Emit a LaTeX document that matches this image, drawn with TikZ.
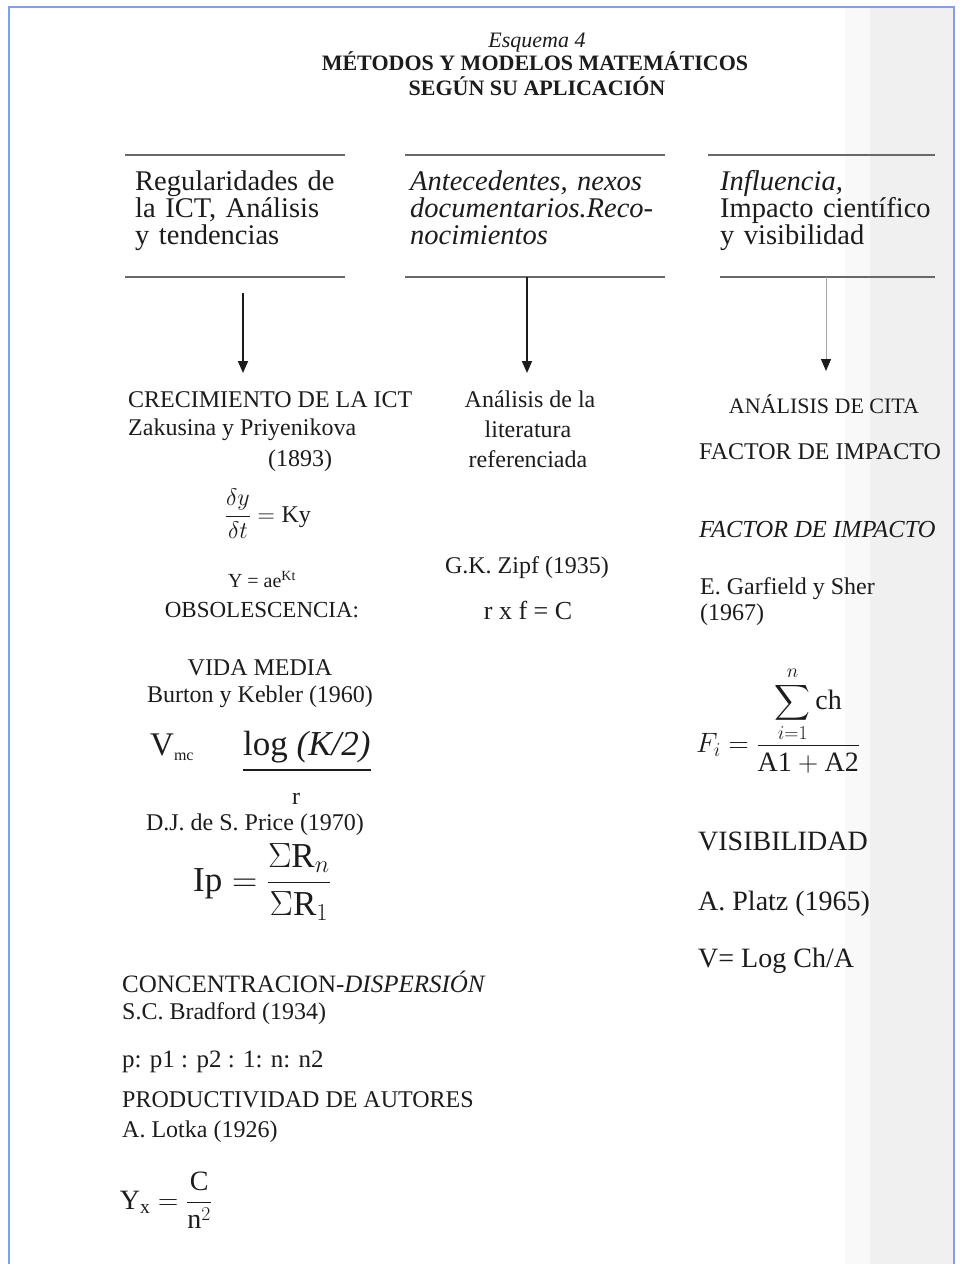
\RequirePackage{fix-cm}
\documentclass[tikz,border=0pt]{standalone}
\usepackage{amsmath}
\usepackage{fontspec}
\setmainfont{Liberation Serif}
\usetikzlibrary{arrows.meta}
\definecolor{ink}{RGB}{28,28,28}
\definecolor{frameblue}{RGB}{125,160,240}
\definecolor{rulegray}{RGB}{105,105,105}
\begin{document}
\begin{tikzpicture}[x=1pt,y=-1pt,
  txt/.style={inner sep=0pt, text=ink, font=\fontsize{24}{28}\selectfont},
  lft/.style={txt, anchor=mid west, yshift=-5pt},
  ctr/.style={txt, anchor=mid, yshift=-5pt},
  hd/.style={inner sep=0pt, text=ink, anchor=mid west, yshift=-6pt, align=left, font=\fontsize{28.5}{27}\selectfont},
  hrule/.style={rulegray, line width=1.4pt},
  arr/.style={ink, line width=1.8pt, -{Triangle[width=10pt,length=12pt]}},
  arrlight/.style={gray!70, line width=1pt, -{Triangle[width=10pt,length=12pt,color=ink]}}]
\useasboundingbox (0,0) rectangle (959,1264);
\fill[white] (0,0) rectangle (959,1264);
\fill[gray!5] (845,8) rectangle (870,1264);
\fill[gray!12] (870,8) rectangle (953,1264);
\draw[frameblue, line width=2pt] (9,1264) -- (9,7) -- (954,7) -- (954,1264);

% title
\node[ctr, font=\itshape\fontsize{22}{24}\selectfont] (t1) at (537,40) {Esquema 4};
\node[ctr, font=\bfseries\fontsize{22}{24}\selectfont] (t2) at (535,63) {MÉTODOS Y MODELOS MATEMÁTICOS};
\node[ctr, font=\bfseries\fontsize{22}{24}\selectfont] (t3) at (537,88) {SEGÚN SU APLICACIÓN};

% headers
\node[hd, text width=225pt] (h1) at (135,182) {Regularidades de\\la ICT, Análisis\\y tendencias};
\node[hd, text width=275pt, font=\itshape\fontsize{28.5}{27}\selectfont] (h2) at (410,182) {Antecedentes, nexos\\documentarios.Reco-\\nocimientos};
\node[hd, text width=235pt] (h3) at (720,182) {\textit{Influencia,}\\Impacto científico\\y visibilidad};

\draw[hrule] (125,155) -- (345,155);
\draw[hrule] (125,277) -- (345,277);
\draw[hrule] (405,155) -- (665,155);
\draw[hrule] (405,277) -- (665,277);
\draw[hrule] (708,155) -- (935,155);
\draw[hrule] (720,277) -- (935,277);

% connectors
\coordinate (a1s) at (243,293);
\coordinate (a1e) at (243,373);
\coordinate (a2s) at (527,277);
\coordinate (a2e) at (527,373);
\coordinate (a3s) at (826,277);
\coordinate (a3e) at (826,371);
\draw[arr] (a1s) -- (a1e);
\draw[arr] (a2s) -- (a2e);
\draw[arrlight] (a3s) -- (a3e);

% column 1
\node[lft] (c1) at (128,400) {CRECIMIENTO DE LA ICT};
\node[lft] (c1b) at (128,428) {Zakusina y Priyenikova};
\node[lft] (c1c) at (268,459) {(1893)};
\node[txt, anchor=center] (f1) at (268,514) {$\dfrac{\delta y}{\delta t} = \mathrm{Ky}$};
\node[ctr, font=\fontsize{20}{24}\selectfont] (f2) at (262,580) {Y = ae\textsuperscript{Kt}};
\node[ctr, font=\fontsize{23}{28}\selectfont] (c1d) at (262,610) {OBSOLESCENCIA:};
\node[ctr] (c1e) at (260,668) {VIDA MEDIA};
\node[ctr] (c1f) at (260,695) {Burton y Kebler (1960)};
\node[lft, font=\fontsize{33}{36}\selectfont] (f3a) at (150,748) {V\textsubscript{\fontsize{16}{18}\selectfont mc}};
\node[lft, font=\fontsize{35}{38}\selectfont] (f3b) at (243,748) {log \textit{(K/2)}};
\draw[ink, line width=1.2pt] (f3b.south west) ++(0,7) coordinate (barL) -- (barL -| f3b.south east);
\node[ctr] (f3c) at (296,797) {r};
\node[ctr] (c1g) at (255,823) {D.J. de S. Price (1970)};
\node[txt, anchor=center, font=\fontsize{35}{38}\selectfont] (f4) at (262,882) {$\mathrm{Ip} = \dfrac{\Sigma\mathrm{R}_n}{\Sigma\mathrm{R}_1}$};
\node[lft, font=\fontsize{25}{28}\selectfont] (c1h) at (122,985) {CONCENTRACION-\textit{DISPERSIÓN}};
\node[lft] (c1i) at (122,1012) {S.C. Bradford (1934)};
\node[lft, font=\fontsize{25}{28}\selectfont] (f5) at (122,1060) {p: p1 : p2 : 1: n: n2};
\node[lft] (c1j) at (122,1100) {PRODUCTIVIDAD DE AUTORES};
\node[lft] (c1k) at (122,1130) {A. Lotka (1926)};
\node[txt, anchor=center, font=\fontsize{28}{32}\selectfont] (f6) at (166,1200) {$\mathrm{Y_x} = \dfrac{\mathrm{C}}{\mathrm{n}^2}$};

% column 2
\node[ctr] (c2) at (530,400) {Análisis de la};
\node[ctr] (c2b) at (528,430) {literatura};
\node[ctr] (c2c) at (528,460) {referenciada};
\node[ctr] (c2d) at (527,566) {G.K. Zipf (1935)};
\node[ctr, font=\fontsize{26}{30}\selectfont] (f7) at (528,612) {r x f = C};

% column 3
\node[ctr, font=\fontsize{22}{26}\selectfont] (c3) at (824,406) {ANÁLISIS DE CITA};
\node[lft] (c3b) at (699,452) {FACTOR DE IMPACTO};
\node[lft, font=\itshape\fontsize{24.5}{28}\selectfont] (c3c) at (699,530) {FACTOR DE IMPACTO};
\node[lft] (c3d) at (700,587) {E. Garfield y Sher};
\node[lft] (c3e) at (700,613) {(1967)};
\node[txt, anchor=center, font=\fontsize{28}{34}\selectfont] (f8) at (778,720) {$F_i = \dfrac{\displaystyle\sum_{i=1}^{n}\mathrm{ch}}{\mathrm{A1 + A2}}$};
\node[lft, font=\fontsize{28}{30}\selectfont] (c3f) at (698,843) {VISIBILIDAD};
\node[lft, font=\fontsize{28}{30}\selectfont] (c3g) at (698,903) {A. Platz (1965)};
\node[lft, font=\fontsize{28}{30}\selectfont] (f9) at (698,960) {V= Log Ch/A};
\end{tikzpicture}
\end{document}
